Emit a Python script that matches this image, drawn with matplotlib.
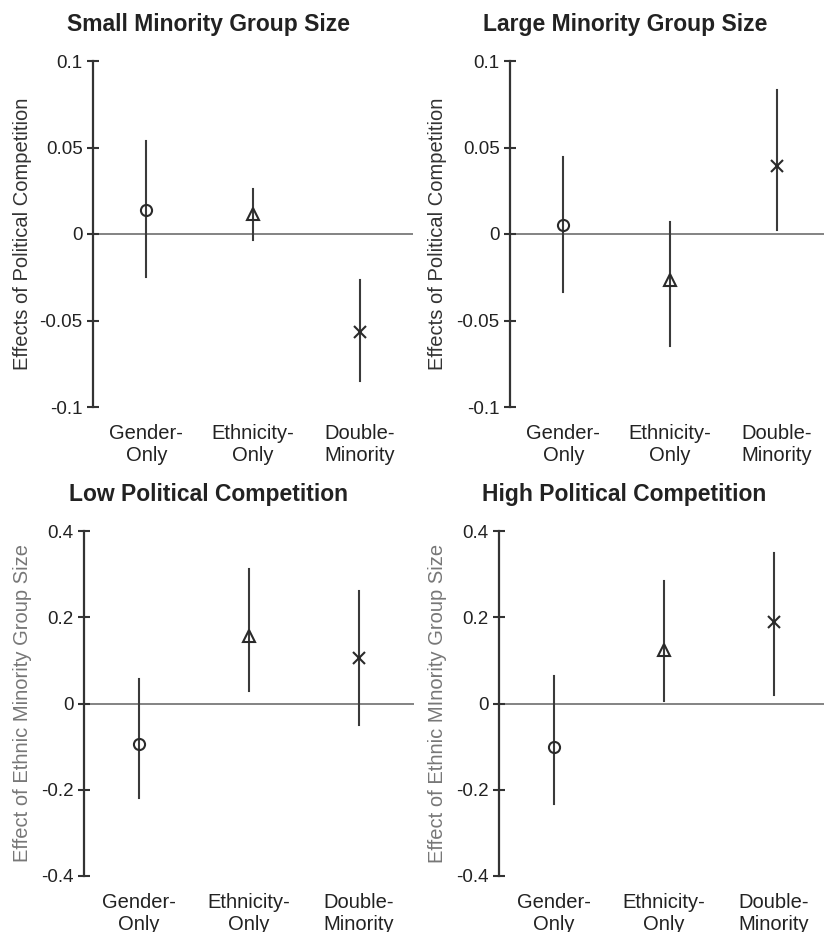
import matplotlib
matplotlib.use("Agg")
import matplotlib.pyplot as plt

plt.rcParams["font.family"] = ["Liberation Sans", "DejaVu Sans"]
plt.rcParams["axes.unicode_minus"] = False

categories = ["Gender-\nOnly", "Ethnicity-\nOnly", "Double-\nMinority"]
markers = ["o", "^", "x"]

# top row: effects of political competition
small_est = [0.014, 0.0115, -0.0565]
small_lo = [-0.025, -0.0035, -0.085]
small_hi = [0.0535, 0.026, -0.0265]

large_est = [0.005, -0.0265, 0.0395]
large_lo = [-0.0335, -0.065, 0.0025]
large_hi = [0.0445, 0.007, 0.0835]

# bottom row: effect of ethnic minority group size
low_est = [-0.094, 0.156, 0.106]
low_lo = [-0.22, 0.028, -0.0495]
low_hi = [0.056, 0.311, 0.261]

high_est = [-0.10, 0.123, 0.189]
high_lo = [-0.234, 0.005, 0.02]
high_hi = [0.064, 0.284, 0.35]

top_ticks = [-0.1, -0.05, 0, 0.05, 0.1]
top_labels = ["-0.1", "-0.05", "0", "0.05", "0.1"]
bottom_ticks = [-0.4, -0.2, 0, 0.2, 0.4]
bottom_labels = ["-0.4", "-0.2", "0", "0.2", "0.4"]

W, H = 824, 932
fig = plt.figure(figsize=(W / 100, H / 100), dpi=100)


def panel(left, top, width, height, title, est, lo, hi, ticks, labels, ylabel,
          ylabel_color, label_x, title_x):
    ax = fig.add_axes([left / W, 1 - (top + height) / H, width / W, height / H])
    xs = [1, 2, 3]
    ax.axhline(0, color="#7a7a7a", lw=1.3, zorder=1)
    for x, e, l, h, m in zip(xs, est, lo, hi, markers):
        ax.plot([x, x], [l, h], color="#3a3a3a", lw=1.5, zorder=2)
        ax.plot(x, e, marker=m, ms=8, mfc="none", mec="#2a2a2a", mew=1.5,
                ls="none", zorder=3)
    ax.set_xlim(0.5, 3.5)
    ax.set_ylim(ticks[0], ticks[-1])
    for s in ["top", "right", "bottom"]:
        ax.spines[s].set_visible(False)
    ax.spines["left"].set_linewidth(1.6)
    ax.spines["left"].set_color("#333333")
    ax.set_yticks(ticks)
    ax.set_yticklabels(labels)
    ax.tick_params(axis="y", direction="inout", length=9, width=1.5,
                   color="#333333", labelsize=13.5, labelcolor="#222222", pad=3)
    ax.set_xticks(xs)
    ax.set_xticklabels(categories, linespacing=1.2)
    ax.tick_params(axis="x", length=0, labelsize=14.5, labelcolor="#222222", pad=12)
    ax.set_ylabel(ylabel, fontsize=14.5, color=ylabel_color)
    ax.yaxis.set_label_coords(label_x, 0.5)
    ax.text(title_x, 1 + 36 / height, title, transform=ax.transAxes,
            ha="center", va="center", fontsize=16.5, fontweight="bold",
            color="#222222")
    return ax


panel(93, 61, 320, 346, "Small Minority Group Size", small_est, small_lo, small_hi,
      top_ticks, top_labels, "Effects of Political Competition", "#333333", -0.19, 0.36)
panel(510, 61, 320, 346, "Large Minority Group Size", large_est, large_lo, large_hi,
      top_ticks, top_labels, "Effects of Political Competition", "#333333", -0.196, 0.36)
panel(84, 531, 330, 345, "Low Political Competition", low_est, low_lo, low_hi,
      bottom_ticks, bottom_labels, "Effect of Ethnic Minority Group Size", "#777777",
      -0.158, 0.376)
panel(499, 531, 330, 345, "High Political Competition", high_est, high_lo, high_hi,
      bottom_ticks, bottom_labels, "Effect of Ethnic MInority Group Size", "#777777",
      -0.158, 0.38)

fig.savefig("out.png", dpi=100)
